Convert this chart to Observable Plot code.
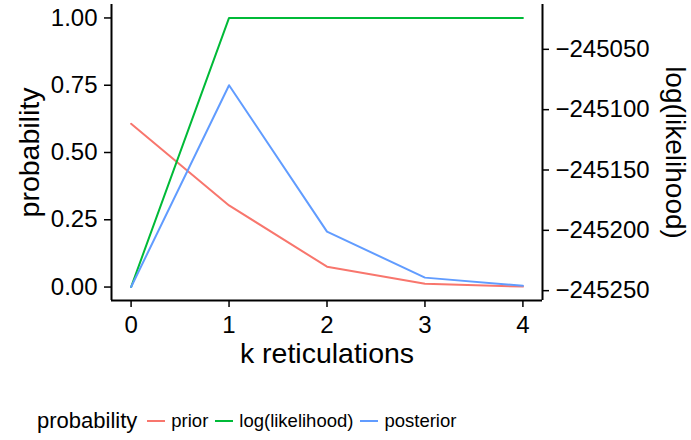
<!DOCTYPE html>
<html>
<head>
<meta charset="utf-8">
<script src="https://cdn.jsdelivr.net/npm/d3@7"></script>
<script src="https://cdn.jsdelivr.net/npm/@observablehq/plot@0.6"></script>
<style>
  body { margin: 0; background: #fff; font-family: "Liberation Sans", Arial, sans-serif; }
  #legend { display: flex; align-items: center; height: 30px; margin-top: 13px; padding-left: 37px; color: #000; }
  #legend .title { font-size: 22px; margin-right: 10px; }
  #legend .key { display: inline-block; width: 18px; height: 0; border-top: 2px solid; margin-right: 6px; }
  #legend .lab { font-size: 18.5px; margin-right: 7px; }
</style>
</head>
<body>
<div id="chart"></div>
<script>
const k = [0, 1, 2, 3, 4];
const prior = [0.6065, 0.3033, 0.0758, 0.0126, 0.0016];
const posterior = [0.0, 0.750, 0.206, 0.035, 0.005];
const logLik = [-245247, -245024, -245024, -245024, -245024];
const seriesNames = ["prior", "log(likelihood)", "posterior"];
const seriesColors = ["#F8766D", "#00BA38", "#619CFF"];
const probTicks = [0, 0.25, 0.5, 0.75, 1];
const llTicks = [-245250, -245200, -245150, -245100, -245050];

const Lmin = d3.min(logLik), Lmax = d3.max(logLik);
const toP = v => (v - Lmin) / (Lmax - Lmin);

const rows = [];
k.forEach((kk, i) => {
  rows.push({k: kk, value: prior[i], series: "prior"});
  rows.push({k: kk, value: toP(logLik[i]), series: "log(likelihood)"});
  rows.push({k: kk, value: posterior[i], series: "posterior"});
});

const title = {fontSize: 28.5, fill: "#000", textAnchor: "middle", lineAnchor: "middle"};

const plot = Plot.plot({
  width: 691,
  height: 393,
  marginLeft: 111,
  marginRight: 149,
  marginTop: 4,
  marginBottom: 93,
  style: {fontFamily: "Liberation Sans, Arial, sans-serif", fontSize: "24px", color: "#000", background: "#fff"},
  x: {domain: [-0.2, 4.2]},
  y: {domain: [-0.05, 1.05]},
  color: {domain: seriesNames, range: seriesColors},
  marks: [
    Plot.axisY(probTicks, {anchor: "left", tickFormat: d3.format(".2f"), tickSize: 7, tickPadding: 7, strokeWidth: 1.5, label: null, fontSize: 24}),
    Plot.axisY(llTicks.map(toP), {anchor: "right", tickFormat: d => d3.format("d")(Math.round(Lmin + d * (Lmax - Lmin))), tickSize: 6, tickPadding: 7, strokeWidth: 1.5, label: null, fontSize: 24}),
    Plot.axisX(k, {anchor: "bottom", tickFormat: d3.format("d"), tickSize: 7, tickPadding: 8, strokeWidth: 1.5, label: null, fontSize: 24}),
    Plot.ruleX([-0.2], {stroke: "#000", strokeWidth: 2}),
    Plot.ruleX([4.2], {stroke: "#000", strokeWidth: 2}),
    Plot.ruleY([-0.05], {stroke: "#000", strokeWidth: 2}),
    Plot.line(rows, {x: "k", y: "value", stroke: "series", z: "series", strokeWidth: 2}),
    Plot.text(["probability"], {...title, x: () => -1.037, y: () => 0.5, rotate: -90}),
    Plot.text(["log(likelihood)"], {...title, fontSize: 28, x: () => 5.552, y: () => 0.5, rotate: 90}),
    Plot.text(["k reticulations"], {...title, frameAnchor: "bottom", lineAnchor: "middle", dy: 53})
  ]
});
document.getElementById("chart").appendChild(plot);

const legend = document.createElement("div");
legend.id = "legend";
legend.innerHTML = `<span class="title">probability</span>` + seriesNames.map((s, i) =>
  `<span class="key" style="border-color:${seriesColors[i]}"></span><span class="lab">${s}</span>`).join("");
document.body.appendChild(legend);
</script>
</body>
</html>
